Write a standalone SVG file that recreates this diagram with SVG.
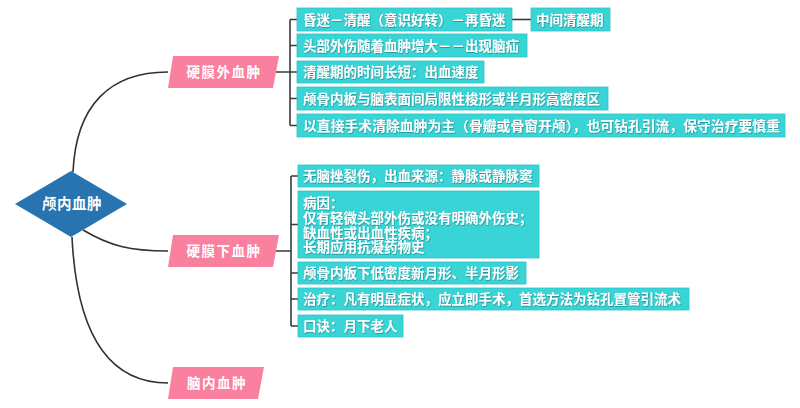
<svg xmlns="http://www.w3.org/2000/svg" width="800" height="408" viewBox="0 0 800 408">
<defs>
<filter id="ts" x="-5%" y="-20%" width="110%" height="140%">
<feDropShadow dx="0.6" dy="0.8" stdDeviation="0.4" flood-color="#0a4f55" flood-opacity="0.55"/>
</filter>
</defs>
<style>
.bg{fill:#ffffff}
.c{fill:none;stroke:#333333;stroke-width:1.6}
.br{fill:none;stroke:#3a3a3a;stroke-width:1.6}
.box{fill:#38d4d6;stroke:#2fc4c6;stroke-width:0.8}
.pk{fill:#f9809f}
.dm{fill:#2874b0}
text{font-family:"Noto Sans CJK SC","Noto Sans",sans-serif;font-weight:700;fill:#ffffff}
.t{font-size:13.5px;filter:url(#ts)}
.pt{font-size:13.5px;letter-spacing:1.5px;text-anchor:middle}
.dt{font-size:14.5px;letter-spacing:0.5px;text-anchor:middle}
</style>
<rect class="bg" x="0" y="0" width="800" height="408"/>
<g id="connectors">
<path class="c" d="M73,172 C76,105 110,72 168,72"/>
<path class="c" d="M83,230 C110,246 130,251 168,251"/>
<path class="c" d="M72,237 C76,320 100,383 168,383"/>
<path class="br" d="M276,72 H290 M290,19.5 V125.5 M290,19.5 H297 M290,45.5 H297 M290,72 H297 M290,98.5 H297 M290,125.5 H297"/>
<path class="br" d="M512,19.5 H531"/>
<path class="br" d="M276,251 H291 M291,176 V326 M291,176 H298 M291,224.5 H298 M291,273 H298 M291,299 H298 M291,326 H298"/>
</g>
<g id="root">
<polygon class="dm" points="15,204 71,171 127,204 71,237"/>
<text class="dt" x="72" y="209">颅内血肿</text>
</g>
<g id="epidural">
<polygon class="pk" points="173,56 279,56 273,88 168,88"/>
<text class="pt" x="224" y="77">硬膜外血肿</text>
</g>
<g id="subdural">
<polygon class="pk" points="173,235 279,235 273,267 168,267"/>
<text class="pt" x="224" y="256">硬膜下血肿</text>
</g>
<g id="intracerebral">
<polygon class="pk" points="173,367 264,367 258,399 168,399"/>
<text class="pt" x="217" y="388">脑内血肿</text>
</g>
<g id="e1">
<rect class="box" x="297" y="8" width="215" height="23"/>
<text class="t" x="303" y="24.5">昏迷－清醒（意识好转）－再昏迷</text>
</g>
<g id="e1a">
<rect class="box" x="531" y="8" width="79" height="23"/>
<text class="t" x="536" y="24.5">中间清醒期</text>
</g>
<g id="e2">
<rect class="box" x="297" y="34" width="230" height="23"/>
<text class="t" x="303" y="50.5">头部外伤随着血肿增大－－出现脑疝</text>
</g>
<g id="e3">
<rect class="box" x="297" y="61" width="187" height="22"/>
<text class="t" x="303" y="77">清醒期的时间长短：出血速度</text>
</g>
<g id="e4">
<rect class="box" x="297" y="87" width="311" height="23"/>
<text class="t" x="303" y="103.5">颅骨内板与脑表面间局限性梭形或半月形高密度区</text>
</g>
<g id="e5">
<rect class="box" x="297" y="114" width="488" height="23"/>
<text class="t" x="303" y="130.5" textLength="477" lengthAdjust="spacingAndGlyphs">以直接手术清除血肿为主（骨瓣或骨窗开颅），也可钻孔引流，保守治疗要慎重</text>
</g>
<g id="s1">
<rect class="box" x="298" y="165" width="241" height="22"/>
<text class="t" x="303" y="181">无脑挫裂伤，出血来源：静脉或静脉窦</text>
</g>
<g id="s2">
<rect class="box" x="298" y="191" width="241" height="67"/>
<text class="t" x="303" y="208"><tspan x="303" y="208">病因：</tspan><tspan x="303" y="223">仅有轻微头部外伤或没有明确外伤史；</tspan><tspan x="303" y="237.5">缺血性或出血性疾病；</tspan><tspan x="303" y="252">长期应用抗凝药物史</tspan></text>
</g>
<g id="s3">
<rect class="box" x="298" y="262" width="228" height="22"/>
<text class="t" x="303" y="278">颅骨内板下低密度新月形、半月形影</text>
</g>
<g id="s4">
<rect class="box" x="298" y="288" width="391" height="22"/>
<text class="t" x="303" y="304">治疗：凡有明显症状，应立即手术，首选方法为钻孔置管引流术</text>
</g>
<g id="s5">
<rect class="box" x="298" y="315" width="105" height="22"/>
<text class="t" x="303" y="331">口诀：月下老人</text>
</g>
</svg>
